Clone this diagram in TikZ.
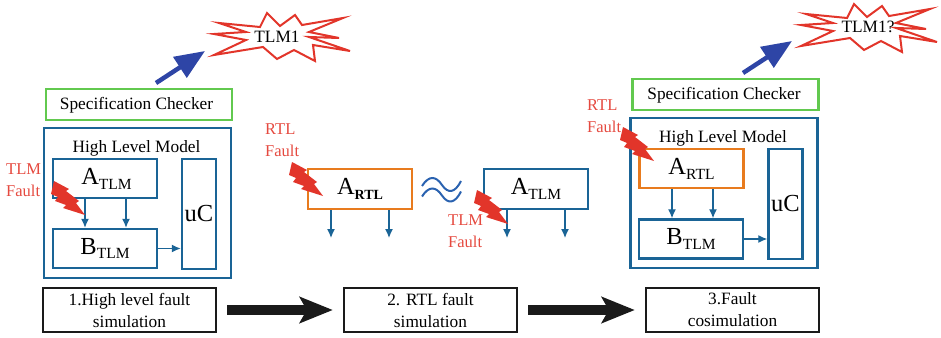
\documentclass[tikz,border=0pt]{standalone}
\usepackage{fontspec}
\setmainfont{Liberation Serif}
\usetikzlibrary{arrows.meta}
\definecolor{modelblue}{HTML}{1A6496}
\definecolor{checkgreen}{HTML}{62C94F}
\definecolor{rtlorange}{HTML}{E87B1E}
\definecolor{faultred}{HTML}{E2352A}
\definecolor{reportblue}{HTML}{2E45A6}
\definecolor{waveblue}{HTML}{2A62B0}
\definecolor{stepblack}{HTML}{1A1A1A}
\newcommand{\blocklabel}[2]{#1\raisebox{-.2em}{\fontsize{15.5}{15.5}\selectfont #2}}
\newcommand{\blocklabelb}[2]{#1\raisebox{-.2em}{\fontsize{14}{14}\selectfont\bfseries #2}}
\tikzset{
	textsmall/.style={font=\fontsize{17.3}{22}\selectfont, align=center, inner sep=0pt},
	faultlabel/.style={font=\fontsize{16.5}{22}\selectfont, align=left, inner sep=0pt, anchor=west, text=faultred!90!white},
	checkerbox/.style={draw=checkgreen, line width=2.4pt, minimum width=186pt, minimum height=31pt},
	modelbox/.style={draw=modelblue, line width=2.4pt, minimum width=187pt, minimum height=150pt},
	tlmbox/.style={draw=modelblue, line width=2.4pt, minimum width=104pt, minimum height=39pt, inner sep=0pt, font=\fontsize{24.5}{26}\selectfont},
	rtlbox/.style={tlmbox, draw=rtlorange},
	ucbox/.style={draw=modelblue, line width=2.4pt, minimum width=34pt, minimum height=110pt, inner sep=0pt, font=\fontsize{24.5}{26}\selectfont},
	stepbox/.style={draw=stepblack, line width=2.4pt, minimum width=173pt, minimum height=44pt, textsmall},
	flow/.style={draw=modelblue, line width=1.3pt, -{Latex[length=9pt,width=8pt]}},
	bigflow/.style={draw=stepblack, line width=10pt, shorten <=10pt, shorten >=10pt, -{Stealth[length=33pt,width=26pt,inset=7pt]}},
	reportflow/.style={draw=reportblue, line width=4.5pt, -{Triangle[length=30pt,width=24pt]}},
	bolt/.pic={\fill [faultred] (0,0) -- (15,8) -- (12,10) -- (25,20) -- (22,22) -- (31,34) -- (9,27) -- (12,24) -- (1,20) -- (4,16) -- (-3,13) -- cycle;},
	burst/.pic={\draw [faultred, line width=2pt, fill=white] (0,0) -- (41,4) -- (48,-10) -- (61,3) -- (76,-8) -- (83,2) -- (124,-5) -- (90,9) -- (120,15) -- (90,14) -- (131,28) -- (94,22) -- (96,38) -- (75,27) -- (58,36) -- (44,24) -- (-5,32) -- (27,17) -- (-5,11) -- (27,9) -- cycle;}
}

\begin{document}
\begin{tikzpicture}[x=1pt, y=-1pt]
		\useasboundingbox (0, 0) rectangle (941, 337);
		\node [checkerbox] (checkerleft) at (139, 104.5) {};
		\node [textsmall] (checkertextleft) at (136.5, 105) {Specification Checker};
		\node [modelbox] (modelleft) at (137.5, 203) {};
		\node [textsmall] (titleleft) at (136.5, 148.5) {High Level Model};
		\node [tlmbox] (atlmleft) at (105, 178.5) {\hspace{3pt}\blocklabel{A}{TLM}};
		\node [tlmbox] (btlmleft) at (105, 248.5) {\blocklabel{B}{TLM}};
		\node [ucbox] (ucleft) at (199, 214) {\raisebox{-1pt}{uC}};
		\draw [flow] ([xshift=-20pt] atlmleft.south) to ([xshift=-20pt] btlmleft.north);
		\draw [flow] ([xshift=21pt] atlmleft.south) to ([xshift=21pt] btlmleft.north);
		\draw [flow] (btlmleft.east) to (btlmleft.east -| ucleft.west);
		\pic at (54, 181) {bolt};
		\node [faultlabel] (faultleft) at (6, 180) {TLM\\Fault};
		\coordinate (reportleftstart) at (156, 83);
		\coordinate (reportleftend) at (205, 51);
		\draw [reportflow] (reportleftstart) to (reportleftend);
		\pic at (219, 23) {burst};
		\node [textsmall] (alarmleft) at (277, 37) {TLM1};

		\node [rtlbox, minimum height=40pt] (artlmid) at (360, 189) {\blocklabelb{A}{RTL}};
		\node [tlmbox, minimum height=40pt] (atlmmid) at (536, 189) {\blocklabel{A}{TLM}};
		\coordinate (outa) at (331, 238);
		\coordinate (outb) at (389, 238);
		\coordinate (outc) at (507, 238);
		\coordinate (outd) at (565, 238);
		\draw [flow] (artlmid.south -| outa) to (outa);
		\draw [flow] (artlmid.south -| outb) to (outb);
		\draw [flow] (atlmmid.south -| outc) to (outc);
		\draw [flow] (atlmmid.south -| outd) to (outd);
		\foreach \wavey in {0, 10.5} {
			\draw [waveblue, line width=2pt, yshift=-\wavey pt] (422, 186) .. controls (429, 175) and (436, 176) .. (442, 185) .. controls (448, 194) and (455, 193) .. (461, 181);
		}
		\pic at (292, 162) {bolt};
		\pic at (477, 190) {bolt};
		\node [faultlabel] (faultmida) at (265, 140) {RTL\\Fault};
		\node [faultlabel] (faultmidb) at (448, 231) {TLM\\Fault};

		\node [checkerbox] (checkerright) at (725.5, 94.5) {};
		\node [textsmall] (checkertextright) at (724, 95) {Specification Checker};
		\node [modelbox] (modelright) at (724, 193) {};
		\node [textsmall] (titleright) at (723, 138.5) {High Level Model};
		\node [rtlbox] (artlright) at (691.5, 168.5) {\blocklabel{A}{RTL}};
		\node [tlmbox] (btlmright) at (691, 239) {\blocklabel{B}{TLM}};
		\node [ucbox] (ucright) at (785.5, 204) {\raisebox{-1pt}{uC}};
		\draw [flow] ([xshift=-19.5pt] artlright.south) to ([xshift=-19pt] btlmright.north);
		\draw [flow] ([xshift=21.5pt] artlright.south) to ([xshift=22pt] btlmright.north);
		\draw [flow] (btlmright.east) to (btlmright.east -| ucright.west);
		\pic at (623, 127) {bolt};
		\node [faultlabel] (faultright) at (587, 116) {RTL\\Fault};
		\coordinate (reportrightstart) at (743, 73);
		\coordinate (reportrightend) at (792, 41);
		\draw [reportflow] (reportrightstart) to (reportrightend);
		\pic at (806, 14) {burst};
		\node [textsmall] (alarmright) at (868, 27) {TLM1?};

		\node [stepbox] (stepa) at (129.5, 310) {1.High level fault\\simulation};
		\node [stepbox] (stepb) at (430.5, 310) {2. RTL fault\\simulation};
		\node [stepbox] (stepc) at (732.5, 310) {3.Fault\\cosimulation};
		\draw [bigflow] (stepa) to (stepb);
		\draw [bigflow] (stepb) to (stepc);
	\end{tikzpicture}
\end{document}
